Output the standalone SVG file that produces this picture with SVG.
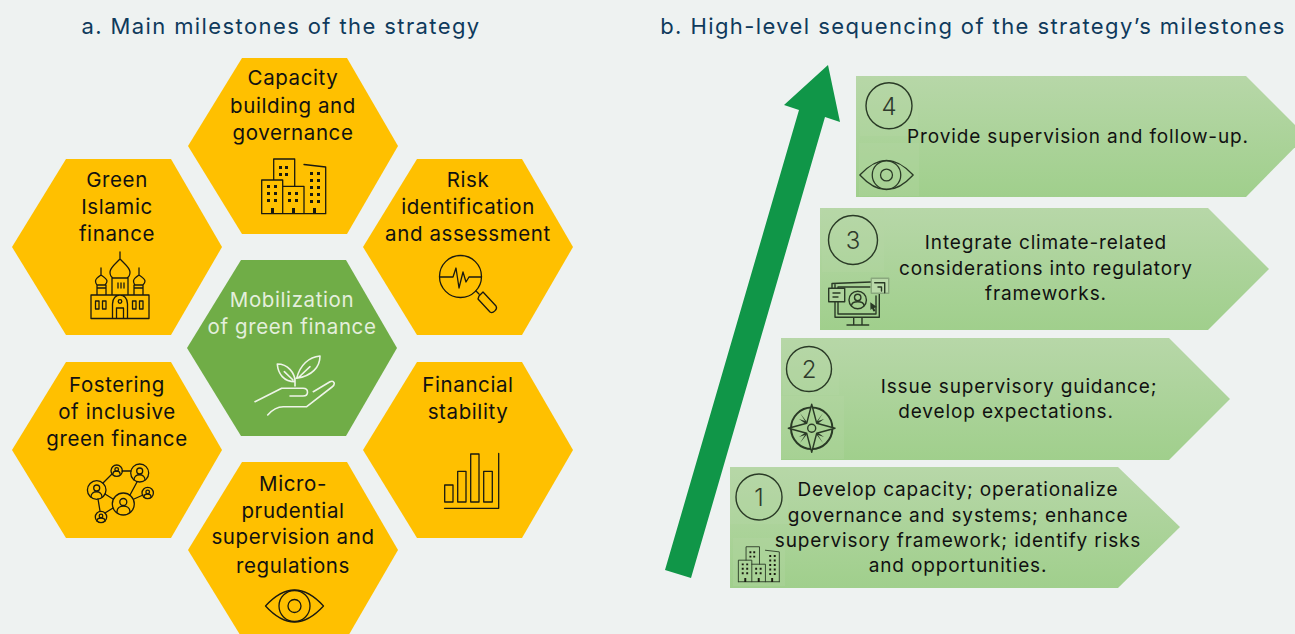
<svg xmlns="http://www.w3.org/2000/svg" xmlns:xlink="http://www.w3.org/1999/xlink" width="1295" height="634" viewBox="0 0 1295 634">
<style>
text{font-family:Inter,"Liberation Sans",Arial,sans-serif;text-anchor:middle}
.t{font-size:20.5px;fill:#111;letter-spacing:.6px}
.w{font-size:20.5px;fill:#e4efdc;letter-spacing:.6px}
.h{font-size:22px;fill:#0f3a5c;letter-spacing:1.4px}
.a{font-size:19px;fill:#111;letter-spacing:.87px}
.n{font-size:24px;fill:#2f3a2c;font-weight:300}
.hex{fill:#ffc000}
.i{fill:none;stroke:#1a1a10;stroke-width:1.3;stroke-linejoin:round;stroke-linecap:round}
.iw{fill:none;stroke:#eef4e8;stroke-width:1.6;stroke-linejoin:round;stroke-linecap:round}
.g{fill:none;stroke:#2a3a26;stroke-width:1.4;stroke-linejoin:round;stroke-linecap:round}
.p{fill:#b5d6a5;opacity:.3}
.dot{fill:#1a1a10}
</style>
<defs>
<linearGradient id="gr" x1="0" y1="0" x2="0" y2="1"><stop offset="0" stop-color="#b7d7a8"/><stop offset="1" stop-color="#a0cf8c"/></linearGradient>
<polygon id="hx" points="-105,0 -51,-88 54,-88 105,0 54,88 -51,88"/>
<g id="city">
<path d="M-21.300,20.700V-13H-.3V20.700M-9.300,-13V-34H11.700V-6.700M-.3,-6.700H21V20.700M21,-28.500L42.700,-26V20.700M-21.300,20.700H42.700"/>
<path class="dot" stroke="none" d="M-4,-27h3v3h-3zM2,-27h3v3h-3zM-4,-20h3v3h-3zM2,-20h3v3h-3zM-16,-8h3v3h-3zM-9,-8h3v3h-3zM-16,-1h3v3h-3zM-9,-1h3v3h-3zM-16,6h3v3h-3zM-9,6h3v3h-3zM5,-1h3v3h-3zM12,-1h3v3h-3zM5,6h3v3h-3zM12,6h3v3h-3zM27,-21h3v3h-3zM34,-21h3v3h-3zM27,-14h3v3h-3zM34,-14h3v3h-3zM27,-7h3v3h-3zM34,-7h3v3h-3zM27,0h3v3h-3zM34,0h3v3h-3zM27,7h3v3h-3zM34,7h3v3h-3zM-12,15h3v6h-3zM9,15h3v6h-3zM30,15h3v6h-3z"/>
</g>
<g id="eye">
<path d="M-29,0C-18,-12 -8,-16 0,-16C8,-16 18,-12 29,0C18,12 8,16 0,16C-8,16 -18,12 -29,0Z"/>
<circle r="15.500"/><circle r="6.500"/>
</g>
</defs>
<rect width="1295" height="634" fill="#eef2f1"/>
<text class="h" x="281" y="34">a. Main milestones of the strategy</text>
<text class="h" x="973" y="34">b. High-level sequencing of the strategy’s milestones</text>

<g id="hex-capacity">
<use xlink:href="#hx" href="#hx" class="hex" x="293" y="146"/>
<text class="t" x="293" y="85">Capacity</text><text class="t" x="293" y="113">building and</text><text class="t" x="293" y="140">governance</text>
<use href="#city" class="i" x="283" y="193"/>
</g>
<g id="hex-risk">
<use href="#hx" class="hex" x="468" y="247"/>
<text class="t" x="468" y="187">Risk</text><text class="t" x="468" y="214">identification</text><text class="t" x="468" y="241">and assessment</text>
<g class="i"><circle cx="460.500" cy="276.500" r="21"/><path d="M440,277H453L456,268L459,288L463,272L466,282L469,277H481M476,291L479,294M479,296L483,292L496,306C498,309 493,314 490,312L478,299Z"/></g>
</g>
<g id="hex-islamic">
<use href="#hx" class="hex" x="117" y="247"/>
<text class="t" x="117" y="187">Green</text><text class="t" x="117" y="214">Islamic</text><text class="t" x="117" y="241">finance</text>
<g class="i"><path d="M91,318.500V295H149V318.500ZM97,295V285H106V295M134,295V285H143V295M97,288H106M134,288H143M112,295V278H128V295M118,288V283M121,288V283M124,288V283M120,252V259M120,259C114,265 110,268 110,272C110,275 111,277 113,278H127C129,277 130,275 130,272C130,268 126,265 120,259ZM101,268V275M101,275C98,277 95.500,279 95.500,281C95.500,283 96,284 97,285H105C106,284 107,283 107,281C107,279 104,277 101,275ZM139,268V275M139,275C136,277 133.500,279 133.500,281C133.500,283 134,284 135,285H143C144,284 145,283 145,281C145,279 142,277 139,275ZM112.500,318.500V304C112.500,292 127.500,292 127.500,304V318.500M116.500,318.500V308H123.500V318.500M95.500,301h3.500v8h-3.500zM102.500,301h3.500v8h-3.500zM132.500,301h3.500v8h-3.500zM139.500,301h3.500v8h-3.500z"/><circle cx="120" cy="301.500" r="1.800"/></g>
</g>
<g id="hex-center">
<use href="#hx" fill="#70ad47" x="292" y="348"/>
<text class="w" x="292" y="307">Mobilization</text><text class="w" x="292" y="334">of green finance</text>
<g class="iw"><path d="M255,401.700L281.700,388.300H303C309,388.300 309,396 303,396H290M313.300,391.700L330,381.700C334,380 336,384 332,387L306.700,406.700H283.300C277,406.700 272,410 267.700,415M295,381.700C295,373 288,364 277.300,364C278,374 284,381.700 295,381.700ZM296.700,378.300C300,365 309,357 320,356C320,367 312,376 296.700,378.300ZM284.300,371.700L293,380M310,366.700L298,378M295,386V378"/></g>
</g>
<g id="hex-fostering">
<use href="#hx" class="hex" x="117" y="450"/>
<text class="t" x="117" y="392">Fostering</text><text class="t" x="117" y="419">of inclusive</text><text class="t" x="117" y="446">green finance</text>
<g class="i"><circle cx="96.700" cy="490" r="9.300"/><circle cx="116.700" cy="470.700" r="5.700"/><circle cx="139.700" cy="473" r="9"/><circle cx="147.700" cy="493" r="5.700"/><circle cx="123.300" cy="504" r="11"/><circle cx="101" cy="517" r="5.700"/>
<path d="M103,483L112,474M122,471H131M137,482L130,495M134,499L143,495M113,499L105,494M98,499L100,511M105,513L113,508"/>
<circle cx="96.700" cy="488" r="3"/><path d="M91,497C91,490 102,490 102,497"/><circle cx="139.700" cy="471" r="3"/><path d="M134,480C134,473 145,473 145,480"/><circle cx="123.300" cy="502" r="3.500"/><path d="M117,512C117,504 130,504 130,512"/><circle cx="116.700" cy="469.500" r="1.800"/><path d="M113,474C113,470 120,470 120,474"/><circle cx="147.700" cy="492" r="1.800"/><path d="M144,497C144,493 151,493 151,497"/><circle cx="101" cy="516" r="1.800"/><path d="M97,521C97,517 105,517 105,521"/></g>
</g>
<g id="hex-stability">
<use href="#hx" class="hex" x="468" y="450"/>
<text class="t" x="468" y="392">Financial</text><text class="t" x="468" y="419">stability</text>
<g class="i"><path d="M444.500,508.300H498.700V453.500M444.700,502V485H453V502ZM457.700,502V471.300H466V502ZM470.700,502V454H479V502ZM483.700,502V471.300H492.300V502Z"/></g>
</g>
<g id="hex-micro">
<use href="#hx" class="hex" x="293" y="550"/>
<text class="t" x="293" y="491">Micro-</text><text class="t" x="293" y="518">prudential</text><text class="t" x="293" y="544">supervision and</text><text class="t" x="293" y="573">regulations</text>
<use href="#eye" class="i" x="294.500" y="606"/>
</g>

<g id="arrow-4">
<polygon fill="url(#gr)" points="856,76 1246,76 1306,136 1246,197 856,197"/>
<rect class="p" x="860" y="78" width="58" height="58"/><rect class="p" x="859" y="143" width="60" height="53"/>
<circle class="g" cx="889" cy="105.700" r="23"/><text class="n" x="889" y="115">4</text>
<use href="#eye" class="g" transform="translate(886.500 175) scale(.92)"/>
<text class="a" x="1078" y="143">Provide supervision and follow-up.</text>
</g>
<g id="arrow-3">
<polygon fill="url(#gr)" points="820,208 1208,208 1269,269 1208,330 820,330"/>
<rect class="p" x="822" y="210" width="62" height="62"/>
<circle class="g" cx="853" cy="240" r="24.500"/><text class="n" x="853" y="249">3</text>
<g class="g"><path d="M832,288V283.500L871,282M879.300,294V317.300H835V302M835,288V284M838,302V287H870M876,296V314H838V302M853.700,318V325M862,318V325M847,325H868.700"/><rect x="828.700" y="288.300" width="16" height="13.400" fill="#b0d49e"/><path d="M833,293H840M833,297H838"/><circle cx="857.700" cy="300" r="8.700"/><circle cx="857.700" cy="297.500" r="3.200"/><path d="M851.500,305.500C852,300.500 863.500,300.500 864,305.500"/><rect x="871.300" y="278.300" width="17.400" height="15" fill="#b9d9a9" stroke="#8aa87e"/><path d="M874.700,282.700H884.700V292.700M878,287H881.500V291"/></g>
<path d="M870.300,302.300L877,307L874,308L875.500,311L873.500,311.500L872,308.500L870.500,310Z" fill="#2a3a26"/>
<text class="a" x="1046" y="249">Integrate climate-related</text><text class="a" x="1046" y="275">considerations into regulatory</text><text class="a" x="1046" y="300">frameworks.</text>
</g>
<g id="arrow-2">
<polygon fill="url(#gr)" points="781,338 1169,338 1230,399 1169,460 781,460"/>
<rect class="p" x="783" y="340" width="56" height="55"/><rect class="p" x="781" y="396" width="63" height="63"/>
<circle class="g" cx="809" cy="369" r="22.500"/><text class="n" x="809" y="378">2</text>
<g class="g"><circle cx="811.700" cy="428.300" r="20.700" stroke-width="2"/><path fill="#2a3a26" stroke="none" d="M811.700,428.300L800,413L805,421L799,419ZM811.700,428.300L823,413L818,421L824,419ZM811.700,428.300L800,443L805,435L799,437ZM811.700,428.300L823,443L818,435L824,437Z"/><path fill="#a8d193" d="M811.700,404.300L816.700,423.300L835,428.300L816.700,433.300L811.700,452.300L806.700,433.300L788.300,428.300L806.700,423.300Z"/><circle cx="811.700" cy="428.300" r="4"/></g>
<text class="a" x="1019" y="393">Issue supervisory guidance;</text><text class="a" x="1006" y="418">develop expectations.</text>
</g>
<g id="arrow-1">
<polygon fill="url(#gr)" points="730,467 1118,467 1180,527 1118,588 730,588"/>
<rect class="p" x="730" y="468" width="58" height="56"/><rect class="p" x="733" y="538" width="52" height="48"/>
<circle class="g" cx="759" cy="497" r="23"/><text class="n" x="759" y="506">1</text>
<use href="#city" class="g" transform="translate(752 568.500) scale(.64)"/>
<text class="a" x="958" y="496">Develop capacity; operationalize</text><text class="a" x="958" y="522">governance and systems; enhance</text><text class="a" x="958" y="547">supervisory framework; identify risks</text><text class="a" x="958" y="572">and opportunities.</text>
</g>
<g id="connectors">
<polygon fill="#109648" points="665,570 691,578 825,117 840,122 828,65 784,105 799,110"/>
</g>
</svg>
